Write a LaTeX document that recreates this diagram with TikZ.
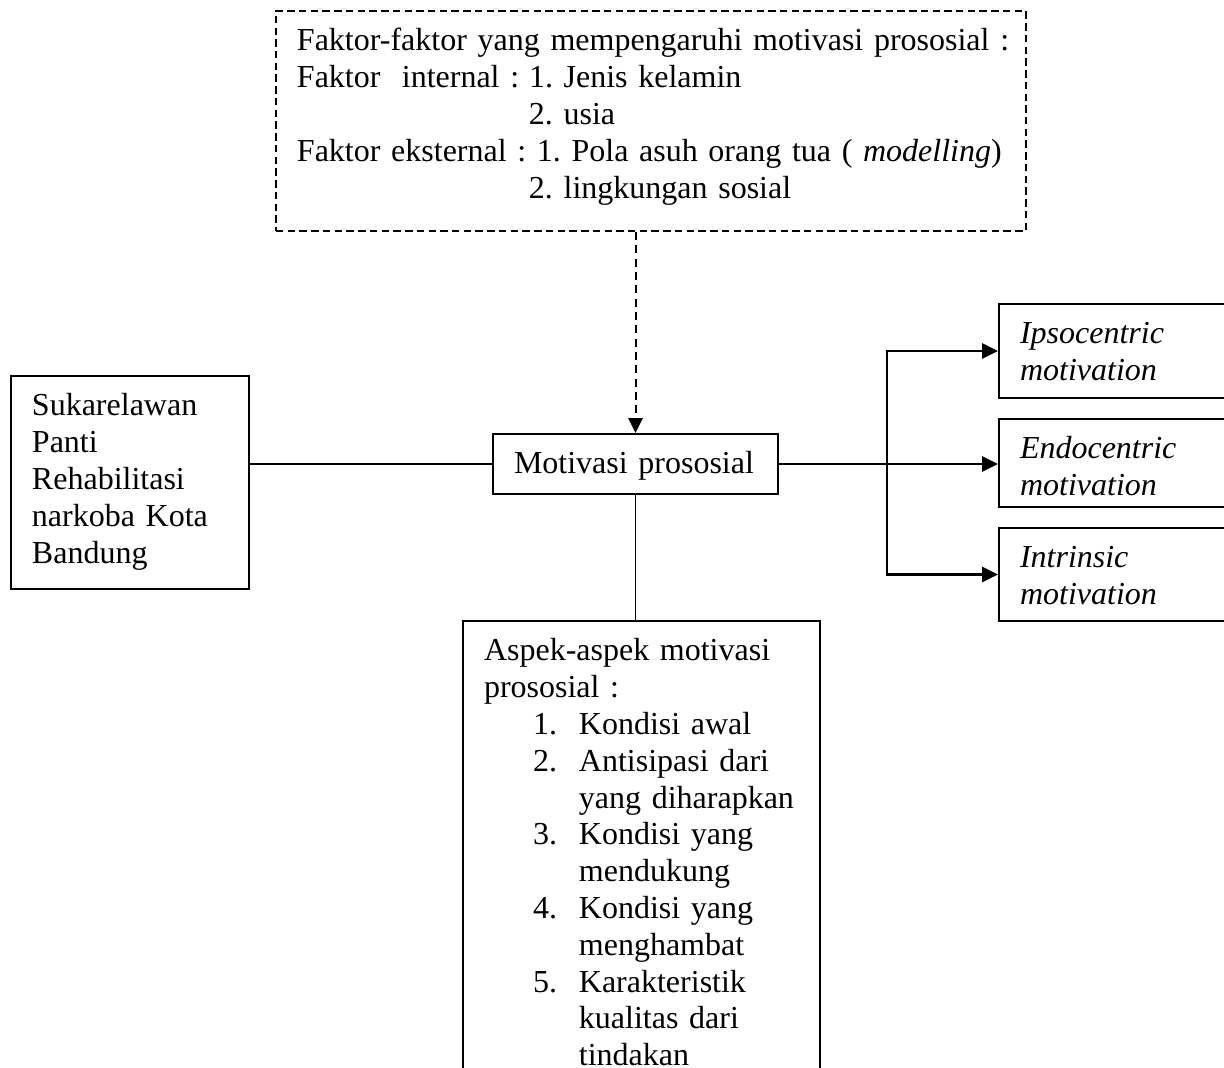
\documentclass[tikz,border=0pt]{standalone}
\usepackage{fontspec}
\setmainfont{Liberation Serif}
\usepackage{tikz}
\usetikzlibrary{arrows.meta}
\tikzstyle{box} = [rectangle, draw, line width=0.75pt, anchor=north west, align=left,
    inner xsep=7.875pt, inner ysep=0pt, text height=15pt,
    font=\fontsize{12pt}{13.8pt}\selectfont\frenchspacing]
\tikzstyle{dashbox} = [box, dash pattern=on 2.8pt off 1.6pt]
\tikzstyle{line} = [draw, line width=0.7pt]
\tikzstyle{dashline} = [draw, line width=0.75pt, dash pattern=on 3pt off 2pt,
    -{Triangle[length=5.6pt,width=5.4pt]}]
\tikzstyle{arrowline} = [draw, line width=1.1pt, -{Triangle[length=6pt,width=5.6pt]}]
\newcommand{\itemno}[1]{\hspace*{18.4pt}\makebox[17.2pt][l]{#1}}
\newcommand{\itemcont}{\hspace*{35.6pt}}
\newcommand{\faktorhead}[1]{\makebox[87pt][l]{#1}}

\begin{document}
\begin{tikzpicture}[x=0.375pt, y=-0.375pt]
    \useasboundingbox (0,0) rectangle (1224,1068);
    % Place nodes
    \node [dashbox, text width=265.5pt, text depth=67.5pt] (faktor) at (275,10)
        {\mbox{Faktor-faktor yang mempengaruhi motivasi prososial :}\\
         \mbox{\faktorhead{Faktor\ \ internal :}1. Jenis kelamin}\\
         \mbox{\faktorhead{}2. usia}\\
         \mbox{Faktor eksternal : 1. Pola asuh orang tua ( \textit{modelling})}\\
         \mbox{\faktorhead{}2. lingkungan sosial}};
    \node [box, text width=73.5pt, text depth=64.875pt] (relawan) at (10,375)
        {Sukarelawan\\ Panti\\ Rehabilitasi\\ narkoba Kota\\ Bandung};
    \node [box, text width=91.125pt, text depth=7.5pt] (motivasi) at (492,433)
        {Motivasi prososial};
    \node [box, text width=74.25pt, text depth=20.25pt] (ipso) at (998,303)
        {\textit{Ipsocentric}\\ \textit{motivation}};
    \node [box, text width=74.25pt, text depth=18pt] (endo) at (998,418)
        {\textit{Endocentric}\\ \textit{motivation}};
    \node [box, text width=74.25pt, text depth=19.875pt] (intr) at (998,527)
        {\textit{Intrinsic}\\ \textit{motivation}};
    \node [box, text width=118.125pt, text depth=161.25pt] (aspek) at (462,620)
        {Aspek-aspek motivasi\\
         prososial :\\
         \itemno{1.}Kondisi awal\\
         \itemno{2.}Antisipasi dari\\
         \itemcont yang diharapkan\\
         \itemno{3.}Kondisi yang\\
         \itemcont mendukung\\
         \itemno{4.}Kondisi yang\\
         \itemcont menghambat\\
         \itemno{5.}Karakteristik\\
         \itemcont kualitas dari\\
         \itemcont tindakan};
    \coordinate (split) at (887,463);
    % Draw edges
    \path [dashline] (faktor.south -| motivasi.north) -- (motivasi.north);
    \path [line] (relawan.east |- motivasi.west) -- (motivasi.west);
    \path [line] (motivasi.south) -- (motivasi.south |- aspek.north);
    \path [arrowline] (motivasi.east) -- (motivasi.east -| endo.west);
    \path [arrowline] (split) |- (ipso.west);
    \path [arrowline] (split) |- (intr.west);
\end{tikzpicture}
\end{document}
